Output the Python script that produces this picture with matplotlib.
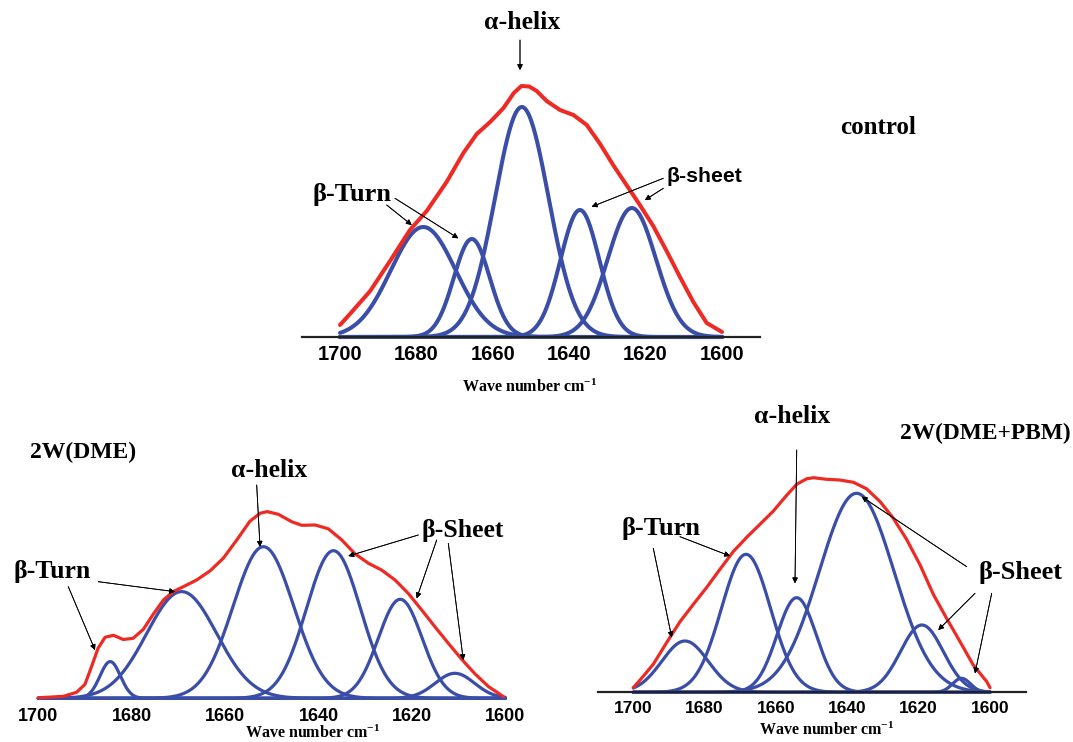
import numpy as np
import matplotlib
matplotlib.use("Agg")
import matplotlib.pyplot as plt

plt.rcParams['mathtext.fontset'] = 'custom'
plt.rcParams['mathtext.rm'] = 'Liberation Serif:bold'
plt.rcParams['mathtext.bf'] = 'Liberation Serif:bold'
plt.rcParams['mathtext.it'] = 'Liberation Serif:bold:italic'

# ---------------- data ----------------
wn_ticks = [1700, 1680, 1660, 1640, 1620, 1600]

# control: fitted bands (centre cm-1, height a.u., sigma cm-1)
ctrl_center = [1678.2, 1665.5, 1652.4, 1637.2, 1623.6]
ctrl_height = [110, 98, 230, 127, 129]
ctrl_sigma = [8.5, 4.7, 7.0, 5.1, 6.3]
# control: measured amide I spectrum
ctrl_red_wn = [1700, 1697.4, 1692.1, 1686.9, 1681.7, 1677.3, 1672.1, 1667.7, 1664.2,
               1660.7, 1657.2, 1654.5, 1652.5, 1650.5, 1648.5, 1645.9, 1642.4, 1638.9,
               1635.4, 1631.9, 1628.5, 1625.0, 1621.5, 1618.0, 1614.5, 1611.0, 1607.5,
               1604.0, 1600]
ctrl_red_abs = [12, 23, 46, 76, 107, 126, 155, 184, 203,
                215, 229, 244, 251, 250.5, 246, 236, 227, 222,
                212, 193, 172, 152, 132, 111, 86, 60, 35,
                14, 5]

# 2W(DME)
dme_center = [1684.6, 1669.3, 1651.8, 1636.8, 1622.5, 1610.8]
dme_height = [36.7, 106.7, 151.6, 147.6, 99, 25]
dme_sigma = [2.2, 7.5, 6.5, 5.8, 4.7, 4.2]
dme_red_wn = [1700, 1694.6, 1691.8, 1690.0, 1688.6, 1687.2, 1685.7, 1683.9, 1681.8,
              1679.7, 1677.5, 1675.4, 1673.2, 1671.1, 1668.2, 1666.1, 1663.2, 1660.4,
              1657.5, 1654.7, 1652.5, 1651.0, 1648.6, 1645.7, 1643.6, 1640.7, 1637.9,
              1635.0, 1632.2, 1629.3, 1626.5, 1623.6, 1620.8, 1617.9, 1615.1, 1612.2,
              1609.3, 1606.5, 1603.6, 1600.4]
dme_red_abs = [0.5, 2.0, 6.0, 14.0, 31.7, 50, 61.0, 63.0, 58.8,
               60, 69, 84, 98.3, 106.7, 113.3, 118.3, 127.5, 140,
               158.3, 177, 185.0, 186.7, 184.0, 176.5, 173.0, 173.3, 169.5,
               158.3, 144.5, 135, 128.3, 118.3, 105, 88.3, 71.7, 55,
               38.8, 24.5, 11.7, 1.7]

# 2W(DME+PBM)
pbm_center = [1685.5, 1668.4, 1654.2, 1637.4, 1619.1, 1608.0]
pbm_height = [51.3, 138, 94.6, 199, 67.3, 14]
pbm_sigma = [6.5, 6.9, 5.5, 10.5, 6.0, 2.5]
pbm_red_wn = [1700, 1698.1, 1694.4, 1690.6, 1686.9, 1683.2, 1679.4, 1675.7, 1672.0,
              1668.2, 1664.5, 1660.8, 1657.0, 1654.2, 1651.4, 1649.5, 1645.8, 1642.1,
              1638.3, 1634.6, 1630.8, 1627.1, 1623.4, 1619.6, 1615.9, 1612.1, 1608.4,
              1604.7, 1600.9, 1600]
pbm_red_abs = [4.6, 12.3, 28.0, 50.0, 70.6, 87.8, 105, 123, 140.6,
               155.0, 168.0, 181.0, 197.0, 208, 213.5, 214.6, 213.0, 212.3,
               210.0, 203.5, 190.6, 174, 153, 127.3, 98.0, 73.5, 50.6,
               27.3, 10.6, 4.6]

# ---------------- figure ----------------
W, H = 1073, 742
fig = plt.figure(figsize=(W / 100, H / 100), dpi=100)

BLUE = '#3a4ea8'
RED = '#ee2a24'
SERIF = 'Liberation Serif'
SANS = 'Liberation Sans'


def add_ax(left, right, base, top):
    return fig.add_axes([left / W, 1 - base / H, (right - left) / W, (base - top) / H])


def panel(ax, centers, heights, sigmas, rwn, rab, xlim, ylim, lw, tick_fs, pad, spine):
    x = np.linspace(1700, 1600, 600)
    for c, h, s in zip(centers, heights, sigmas):
        ax.plot(x, h * np.exp(-0.5 * ((x - c) / s) ** 2), color=BLUE, lw=lw,
                solid_capstyle='round', clip_on=False)
    ax.plot(rwn, rab, color=RED, lw=lw, solid_capstyle='round',
            solid_joinstyle='round', clip_on=False, zorder=3)
    ax.set_xlim(*xlim)
    ax.set_ylim(*ylim)
    ax.set_xticks(wn_ticks)
    ax.set_xticklabels([str(t) for t in wn_ticks], fontfamily=SANS,
                       fontweight='bold', fontsize=tick_fs)
    ax.tick_params(axis='x', length=0, pad=pad)
    ax.set_yticks([])
    for s in ['left', 'right', 'top']:
        ax.spines[s].set_visible(False)
    if spine:
        ax.spines['bottom'].set_color('#222222')
        ax.spines['bottom'].set_linewidth(1.6)
    else:
        ax.spines['bottom'].set_visible(False)
    ax.patch.set_alpha(0)


ax1 = add_ax(301.8, 760.2, 337, 77)
panel(ax1, ctrl_center, ctrl_height, ctrl_sigma, ctrl_red_wn, ctrl_red_abs,
      (1710, 1590), (0, 260), 2.9, 14.5, 6, True)

ax2 = add_ax(38.3, 505.3, 698.3, 498.3)
panel(ax2, dme_center, dme_height, dme_sigma, dme_red_wn, dme_red_abs,
      (1700, 1600), (0, 200), 2.3, 13, 7, False)

ax3 = add_ax(597.6, 1025.7, 692.3, 462.3)
panel(ax3, pbm_center, pbm_height, pbm_sigma, pbm_red_wn, pbm_red_abs,
      (1710, 1590), (0, 230), 2.3, 12.5, 6, True)


def txt(x, y, s, fs, family=SERIF):
    fig.text(x / W, 1 - y / H, s, fontsize=fs, fontweight='bold', family=family,
             ha='center', va='center')


def arrow(x0, y0, x1, y1):
    fig.add_artist(plt.annotate('', xy=(x1, H - y1), xytext=(x0, H - y0),
                                xycoords='figure pixels', textcoords='figure pixels',
                                arrowprops=dict(arrowstyle='-|>', lw=0.6, color='black',
                                                mutation_scale=8, shrinkA=0, shrinkB=0)))


xlab = r'Wave number cm$^{\mathbf{-1}}$'
txt(530, 387, xlab, 11.5)
txt(313, 733, xlab, 11.5)
txt(827, 730, xlab, 11.5)

# control annotations
txt(521.7, 22.5, 'α-helix', 18.5)
txt(878, 127, 'control', 18)
txt(352.5, 195, 'β-Turn', 19)
txt(704, 177, 'β-sheet', 15.3, SANS)
arrow(520, 40, 520, 70)
arrow(386.7, 205, 411.7, 225)
arrow(395, 198.3, 458.3, 238.3)
arrow(663.3, 178.3, 591.7, 206.7)
arrow(663.3, 188.3, 645, 200)

# 2W(DME) annotations
txt(83, 452, '2W(DME)', 17)
txt(269, 470, 'α-helix', 18.5)
txt(51.7, 571.7, 'β-Turn', 18.5)
txt(462.5, 531, 'β-Sheet', 18.5)
arrow(256.7, 485, 260, 546.7)
arrow(98.3, 581.7, 175, 591.7)
arrow(68.3, 586.7, 95, 650)
arrow(418.3, 535, 348.3, 556)
arrow(436.7, 540, 416.7, 598.3)
arrow(448.3, 543.3, 463.3, 660)

# 2W(DME+PBM) annotations
txt(792.5, 416.5, 'α-helix', 18.5)
txt(985, 433, '2W(DME+PBM)', 16.8)
txt(661, 528, 'β-Turn', 19)
txt(1020.5, 573, 'β-Sheet', 19)
arrow(796.7, 450, 795, 583.3)
arrow(680, 536.7, 730, 556)
arrow(653.3, 548.3, 671.7, 637.3)
arrow(966.7, 566.7, 861.7, 496.7)
arrow(975, 593.3, 938.3, 630)
arrow(991.7, 593.3, 975, 673.3)

fig.savefig('out.png', dpi=100)
